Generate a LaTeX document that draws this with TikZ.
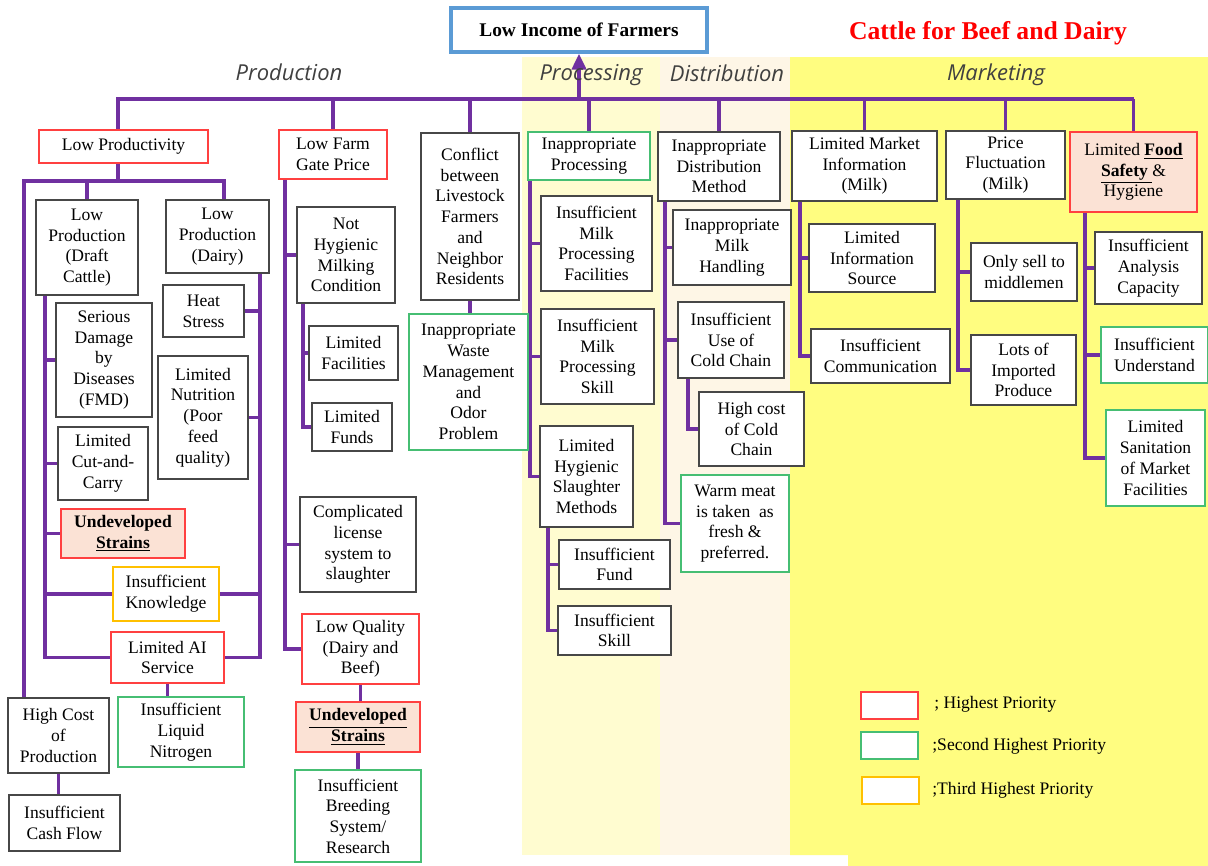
\documentclass[tikz,border=0pt]{standalone}
\usepackage{fontspec}
\setmainfont{Liberation Serif}
\newfontfamily\bandfont{Open Sans}
\usetikzlibrary{arrows.meta}

\definecolor{linkpurple}{RGB}{112,48,160}
\definecolor{prioA}{RGB}{255,64,64}
\definecolor{prioB}{RGB}{70,190,115}
\definecolor{prioC}{RGB}{255,192,0}
\definecolor{peach}{RGB}{251,226,213}
\definecolor{topblue}{RGB}{91,155,213}
\definecolor{procbg}{RGB}{255,252,208}
\definecolor{distbg}{RGB}{254,246,230}
\definecolor{mktbg}{RGB}{255,253,128}
\definecolor{bandtext}{RGB}{64,64,64}

\pgfdeclarelayer{bands}
\pgfdeclarelayer{links}
\pgfsetlayers{bands,links,main}

\tikzset{
  box/.style={draw=black!72, line width=1.1pt, fill=white, align=center, inner sep=0pt,
              font=\fontsize{10}{11.8}\selectfont},
  redbox/.style={box, draw=prioA},
  greenbox/.style={box, draw=prioB},
  yellowbox/.style={box, draw=prioC},
  peachbox/.style={box, draw=prioA, fill=peach},
  topbox/.style={box, draw=topblue, line width=2pt, font=\fontsize{11}{13}\selectfont\bfseries},
  conn/.style={draw=linkpurple, line width=2.2pt},
  bandlabel/.style={font=\bandfont\itshape\fontsize{12.5}{14}\selectfont, text=bandtext},
  legbox/.style={draw=#1, line width=1.4pt, fill=white, minimum width=1.14cm, minimum height=0.54cm, inner sep=0pt},
  legtext/.style={anchor=west, font=\fontsize{10}{12}\selectfont, inner sep=0pt}
}

% \bx{style}{name}{x1}{y1}{x2}{y2}{text}: box spanning the given corners
\newcommand{\bx}[7]{\node[#1, minimum width={(#5-#3)*0.02cm}, minimum height={(#6-#4)*0.02cm}]
  (#2) at ({(#3+#5)/2},{(#4+#6)/2}) {#7};}

\begin{document}
\begin{tikzpicture}[x=0.02cm, y=-0.02cm]
\useasboundingbox (0,0) rectangle (1208,866);

% stage bands
\begin{pgfonlayer}{bands}
\fill[white] (0,0) rectangle (1208,866);
\fill[procbg] (522,57) rectangle (660,855);
\fill[distbg] (660,57) rectangle (790,855);
\fill[mktbg] (790,57) -- (1208,57) -- (1208,866) -- (848,866) -- (848,855) -- (790,855) -- cycle;
\end{pgfonlayer}

\node[bandlabel] (lbProd) at (289,72) {Production};
\node[bandlabel] (lbProc) at (591,75) {Processing};
\node[bandlabel] (lbDist) at (727,73) {Distribution};
\node[bandlabel] (lbMkt) at (996,75) {Marketing};
\node[font=\fontsize{14.6}{16}\selectfont\bfseries, text=red] (title) at (988,33) {Cattle for Beef and Dairy};

% root
\bx{topbox}{top}{451}{8}{707}{52}{Low Income of Farmers}

% first level
\bx{redbox}{lp}{39}{130}{208}{163}{Low Productivity}
\bx{redbox}{fg}{279}{130}{387}{179}{Low Farm\\Gate Price}
\bx{box}{cf}{421}{133}{519}{300}{Conflict\\between\\Livestock\\Farmers\\and\\Neighbor\\Residents}
\bx{greenbox}{ip}{528}{132}{650}{180}{Inappropriate\\Processing}
\bx{box}{id}{658}{132}{780}{201}{Inappropriate\\Distribution\\Method}
\bx{box}{mi}{792}{131}{937}{201}{Limited Market\\Information\\(Milk)}
\bx{box}{pf}{946}{131}{1065}{199}{Price\\Fluctuation\\(Milk)}
\bx{peachbox}{fs}{1070}{132}{1197}{212}{Limited \underline{\textbf{Food}}\\\underline{\textbf{Safety}\ }\&\\Hygiene}

% productivity
\bx{box}{dc}{36}{200}{138}{295}{Low\\Production\\(Draft\\Cattle)}
\bx{box}{dy}{166}{200}{269}{273}{Low\\Production\\(Dairy)}
\bx{box}{sd}{56}{303}{152}{417}{Serious\\Damage\\by\\Diseases\\(FMD)}
\bx{box}{cc}{58}{427}{148}{500}{Limited\\Cut-and-\\Carry}
\bx{peachbox}{usa}{61}{509}{185}{558}{\textbf{Undeveloped}\\\underline{\textbf{Strains}}}
\bx{yellowbox}{ik}{113}{567}{219}{621}{Insufficient\\Knowledge}
\bx{redbox}{ai}{111}{632}{224}{683}{Limited AI\\Service}
\bx{box}{hs}{163}{285}{244}{337}{Heat\\Stress}
\bx{box}{nu}{158}{356}{248}{479}{Limited\\Nutrition\\(Poor\\feed\\quality)}
\bx{greenbox}{lnit}{118}{697}{244}{767}{Insufficient\\Liquid\\Nitrogen}
\bx{box}{hc}{8}{698}{109}{773}{High Cost\\of\\Production}
\bx{box}{cash}{9}{795}{120}{851}{Insufficient\\Cash Flow}

% farm gate price
\bx{box}{nh}{297}{207}{395}{303}{Not\\Hygienic\\Milking\\Condition}
\bx{box}{lf}{309}{326}{398}{380}{Limited\\Facilities}
\bx{box}{lfu}{312}{403}{392}{451}{Limited\\Funds}
\bx{box}{cl}{300}{497}{416}{592}{Complicated\\license\\system to\\slaughter}
\bx{redbox}{lq}{302}{614}{419}{684}{Low Quality\\(Dairy and\\Beef)}
\bx{peachbox}{usb}{296}{702}{420}{752}{\underline{\textbf{Undeveloped}}\\\underline{\textbf{Strains}}}
\bx{greenbox}{br}{295}{770}{421}{862}{Insufficient\\Breeding\\System/\\Research}

% conflict
\bx{greenbox}{wm}{409}{314}{528}{450}{Inappropriate\\Waste\\Management\\and\\Odor\\Problem}

% processing
\bx{box}{mpf}{541}{196}{652}{291}{Insufficient\\Milk\\Processing\\Facilities}
\bx{box}{mps}{541}{309}{654}{404}{Insufficient\\Milk\\Processing\\Skill}
\bx{box}{lh}{540}{426}{633}{527}{Limited\\Hygienic\\Slaughter\\Methods}
\bx{box}{ifd}{559}{540}{670}{589}{Insufficient\\Fund}
\bx{box}{isk}{558}{606}{671}{655}{Insufficient\\Skill}

% distribution
\bx{box}{mh}{673}{210}{791}{285}{Inappropriate\\Milk\\Handling}
\bx{box}{uc}{678}{302}{784}{378}{Insufficient\\Use of\\Cold Chain}
\bx{box}{hcc}{699}{392}{804}{466}{High cost\\of Cold\\Chain}
\bx{greenbox}{wmt}{681}{475}{789}{572}{Warm meat\\is taken\ \ as\\fresh \&\\preferred.}

% marketing
\bx{box}{lis}{809}{224}{935}{292}{Limited\\Information\\Source}
\bx{box}{ic}{811}{329}{950}{383}{Insufficient\\Communication}
\bx{box}{os}{971}{243}{1077}{301}{Only sell to\\middlemen}
\bx{box}{lip}{971}{335}{1076}{405}{Lots of\\Imported\\Produce}
\bx{box}{iac}{1095}{232}{1202}{304}{Insufficient\\Analysis\\Capacity}
\bx{greenbox}{iu}{1101}{327}{1208}{383}{Insufficient\\Understand}
\bx{greenbox}{ls}{1106}{410}{1205}{506}{Limited\\Sanitation\\of Market\\Facilities}

% connector guides
\coordinate (bar) at (0,99);
\coordinate (lpbar) at (0,181);
\coordinate (xL) at (24,0);
\coordinate (xDC) at (45,0);
\coordinate (xDYtop) at (224,0);
\coordinate (xDY) at (260,0);
\coordinate (xFG) at (285,0);
\coordinate (xNH) at (303,0);
\coordinate (xIP) at (530,0);
\coordinate (xLH) at (548,0);
\coordinate (xID) at (665,0);
\coordinate (xCC) at (688,0);
\coordinate (xMI) at (800,0);
\coordinate (xPF) at (958,0);
\coordinate (xFS) at (1085,0);
\coordinate (xLP) at (118,0);

\begin{pgfonlayer}{links}
% main bar and first-level drops
\draw[conn] (lp.north -| xLP) -- (xLP |- bar) -- (fs.north |- bar);
\foreach \n in {fg,cf,ip,id,mi,pf,fs}
  \draw[conn] (\n.north) -- (\n.north |- bar);
\draw[conn, -{Triangle[length=9pt,width=8pt]}] (top.south |- bar) -- (top.south);

% productivity tree
\draw[conn] (lp.south -| xLP) -- (xLP |- lpbar);
\draw[conn] (hc.north -| xL) -- (xL |- lpbar) -- (xDYtop |- lpbar) -- (dy.north -| xDYtop);
\draw[conn] (dc.north) -- (dc.north |- lpbar);
\foreach \n in {sd,cc,usa,ik,ai}
  \draw[conn] (dc.south -| xDC) |- (\n.west);
\foreach \n in {hs,nu,ik,ai}
  \draw[conn] (dy.south -| xDY) |- (\n.east);
\draw[conn] (ai.south) -- (ai.south |- lnit.north);
\draw[conn] (hc.south) -- (hc.south |- cash.north);

% farm gate price tree
\foreach \n in {nh,cl,lq}
  \draw[conn] (fg.south -| xFG) |- (\n.west);
\foreach \n in {lf,lfu}
  \draw[conn] (nh.south -| xNH) |- (\n.west);
\draw[conn] (lq.south) -- (lq.south |- usb.north);
\draw[conn] (usb.south) -- (usb.south |- br.north);

% conflict
\draw[conn] (cf.south) -- (cf.south |- wm.north);

% processing tree
\foreach \n in {mpf,mps,lh}
  \draw[conn] (ip.south -| xIP) |- (\n.west);
\foreach \n in {ifd,isk}
  \draw[conn] (lh.south -| xLH) |- (\n.west);

% distribution tree
\foreach \n in {mh,uc,wmt}
  \draw[conn] (id.south -| xID) |- (\n.west);
\draw[conn] (uc.south -| xCC) |- (hcc.west);

% marketing trees
\foreach \n in {lis,ic}
  \draw[conn] (mi.south -| xMI) |- (\n.west);
\foreach \n in {os,lip}
  \draw[conn] (pf.south -| xPF) |- (\n.west);
\foreach \n in {iac,iu,ls}
  \draw[conn] (fs.south -| xFS) |- (\n.west);
\end{pgfonlayer}

% legend
\node[legbox=prioA] (lg1) at (889.5,705.5) {};
\node[legbox=prioB] (lg2) at (889.5,745.5) {};
\node[legbox=prioC] (lg3) at (890.5,790.5) {};
\node[legtext] (lt1) at (934,704) {; Highest Priority};
\node[legtext] (lt2) at (932,746) {;Second Highest Priority};
\node[legtext] (lt3) at (932,790) {;Third Highest Priority};
\end{tikzpicture}
\end{document}
